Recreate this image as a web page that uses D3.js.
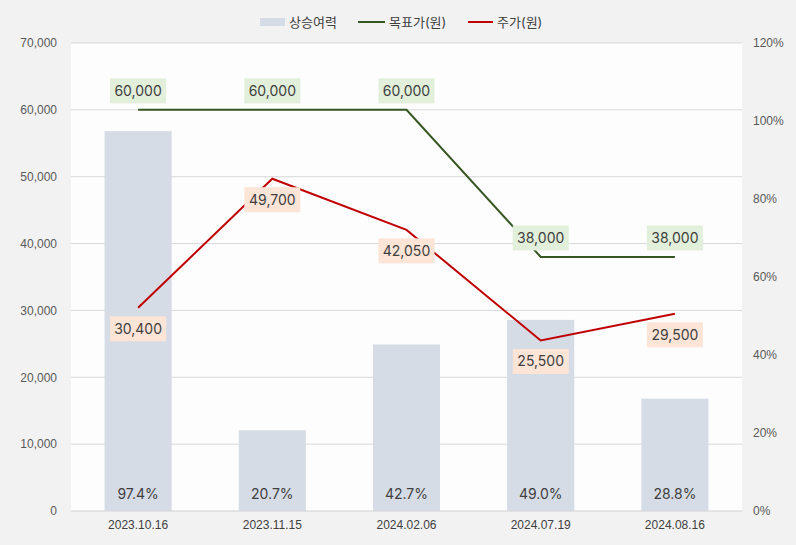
<!DOCTYPE html>
<html>
<head>
<meta charset="utf-8">
<script src="https://cdn.jsdelivr.net/npm/d3@7"></script>
<style>
  body { margin: 0; background: #f2f2f2; }
  svg { display: block; font-family: Inter, "Noto Sans CJK KR", sans-serif; }
</style>
</head>
<body>
<div id="chart"></div>
<script>
var W = 796, H = 545;

// data
var dates = ["2023.10.16", "2023.11.15", "2024.02.06", "2024.07.19", "2024.08.16"];
var upside = [97.4, 20.7, 42.7, 49.0, 28.8];       // 상승여력 (%)
var target = [60000, 60000, 60000, 38000, 38000];  // 목표가(원)
var price = [30400, 49700, 42050, 25500, 29500];   // 주가(원)
var leftTicks = [0, 10000, 20000, 30000, 40000, 50000, 60000, 70000];
var rightTicks = [0, 20, 40, 60, 80, 100, 120];

var m = {left: 71, right: 54, top: 43, bottom: 34};
var iw = W - m.left - m.right, ih = H - m.top - m.bottom;

var svg = d3.select("#chart").append("svg").attr("width", W).attr("height", H);
svg.append("rect").attr("width", W).attr("height", H).attr("fill", "#f2f2f2");

var g = svg.append("g").attr("transform", "translate(" + m.left + "," + m.top + ")");
g.append("rect").attr("width", iw).attr("height", ih).attr("fill", "#fdfdfd");

var x = d3.scaleBand().domain(dates).range([0, iw]).paddingInner(0).paddingOuter(0);
var y = d3.scaleLinear().domain([0, 70000]).range([ih, 0]);
var y2 = d3.scaleLinear().domain([0, 120]).range([ih, 0]);
var cx = function(d) { return x(d) + x.bandwidth() / 2; };

// gridlines
g.selectAll(".grid").data(leftTicks).enter().append("line")
  .attr("x1", 0).attr("x2", iw)
  .attr("y1", function(d) { return y(d); }).attr("y2", function(d) { return y(d); })
  .attr("stroke", function(d) { return d === 0 ? "#d0d0d0" : "#d9d9d9"; })
  .attr("stroke-width", 1);

// left axis
var yAxis = d3.axisLeft(y).tickValues(leftTicks).tickSize(0).tickPadding(14)
  .tickFormat(d3.format(","));
g.append("g").call(yAxis).call(function(a) {
  a.select(".domain").remove();
  a.selectAll("text").attr("fill", "#595959").style("font-size", "12px");
});

// right axis
var y2Axis = d3.axisRight(y2).tickValues(rightTicks).tickSize(0).tickPadding(11)
  .tickFormat(function(d) { return d + "%"; });
g.append("g").attr("transform", "translate(" + iw + ",0)").call(y2Axis).call(function(a) {
  a.select(".domain").remove();
  a.selectAll("text").attr("fill", "#595959").style("font-size", "12px");
});

// bottom axis
var xAxis = d3.axisBottom(x).tickSize(0).tickPadding(9);
g.append("g").attr("transform", "translate(0," + ih + ")").call(xAxis).call(function(a) {
  a.select(".domain").remove();
  a.selectAll("text").attr("fill", "#404040").style("font-size", "12px");
});

// bars
var bw = x.bandwidth() / 2;
g.selectAll(".bar").data(upside).enter().append("rect")
  .attr("x", function(d, i) { return cx(dates[i]) - bw / 2; })
  .attr("y", function(d) { return y2(d); })
  .attr("width", bw)
  .attr("height", function(d) { return ih - y2(d); })
  .attr("fill", "#d6dce5");

g.selectAll(".barlbl").data(upside).enter().append("text")
  .attr("x", function(d, i) { return cx(dates[i]); })
  .attr("y", ih - 12)
  .attr("text-anchor", "middle")
  .attr("fill", "#404040")
  .style("font-size", "14px")
  .text(function(d) { return d.toFixed(1) + "%"; });

// lines
var line = d3.line().x(function(d, i) { return cx(dates[i]); }).y(function(d) { return y(d); });
g.append("path").datum(target).attr("d", line)
  .attr("fill", "none").attr("stroke", "#375623").attr("stroke-width", 2);
g.append("path").datum(price).attr("d", line)
  .attr("fill", "none").attr("stroke", "#c00000").attr("stroke-width", 2);

// value labels
function labels(data, bg, dy) {
  var lg = g.selectAll(null).data(data).enter().append("g")
    .attr("transform", function(d, i) { return "translate(" + cx(dates[i]) + "," + (y(d) + dy) + ")"; });
  lg.append("rect").attr("x", -28).attr("y", -12.5).attr("width", 56).attr("height", 25).attr("fill", bg);
  lg.append("text").attr("text-anchor", "middle").attr("dy", "0.35em")
    .attr("fill", "#404040").style("font-size", "14px")
    .text(function(d) { return d3.format(",")(d); });
}
labels(target, "#e2efda", -19);
labels(price, "#fce4d6", 21);

// legend
var leg = svg.append("g").attr("transform", "translate(0,22)");
leg.append("rect").attr("x", 260).attr("y", -4).attr("width", 25).attr("height", 8).attr("fill", "#d6dce5");
leg.append("text").attr("x", 289).attr("dy", "0.35em").attr("fill", "#404040").style("font-size", "13px").text("상승여력");
leg.append("line").attr("x1", 358).attr("x2", 385).attr("stroke", "#375623").attr("stroke-width", 2);
leg.append("text").attr("x", 389).attr("dy", "0.35em").attr("fill", "#404040").style("font-size", "13px").text("목표가(원)");
leg.append("line").attr("x1", 468).attr("x2", 493).attr("stroke", "#c00000").attr("stroke-width", 2);
leg.append("text").attr("x", 497).attr("dy", "0.35em").attr("fill", "#404040").style("font-size", "13px").text("주가(원)");
</script>
</body>
</html>
